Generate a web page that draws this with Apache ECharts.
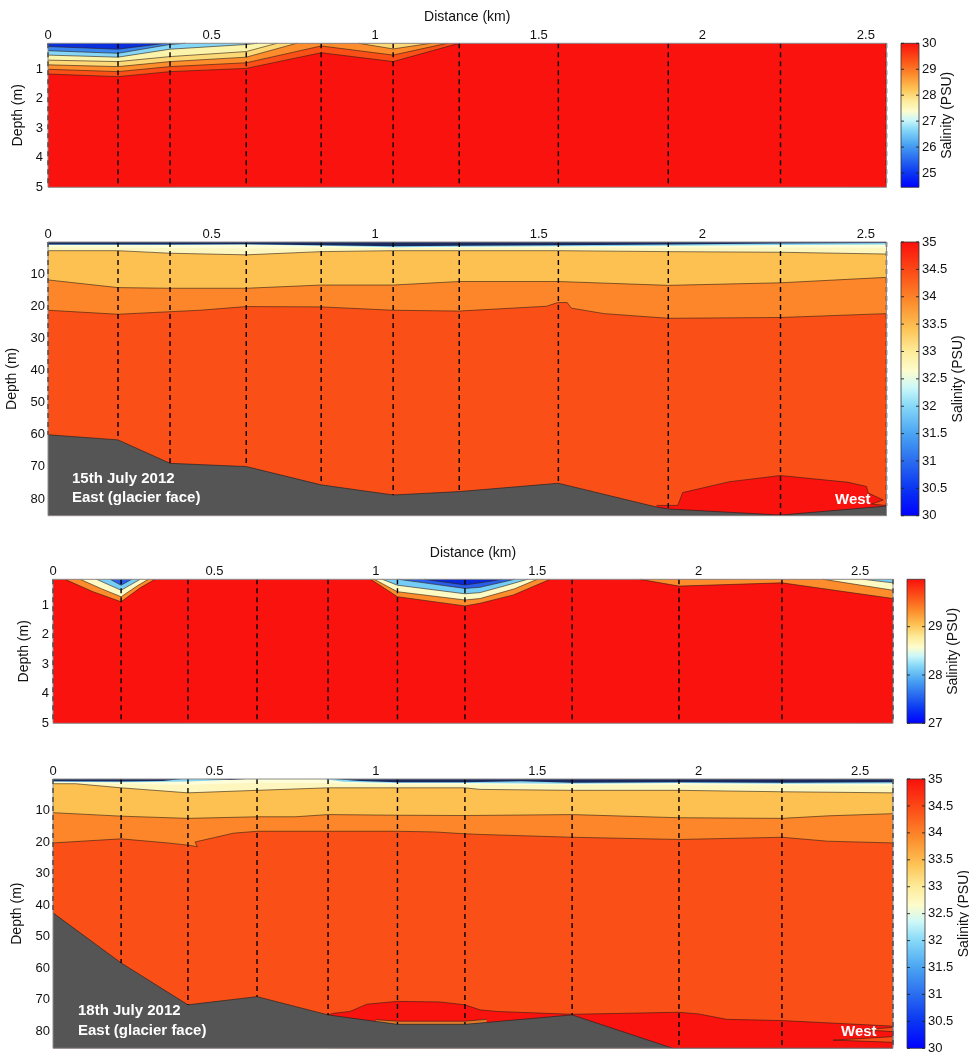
<!DOCTYPE html>
<html><head><meta charset="utf-8">
<script src="https://cdn.jsdelivr.net/npm/echarts@6/dist/echarts.min.js"></script>
<style>html,body{margin:0;padding:0;background:#fff}#c{width:969px;height:1054px}</style>
</head><body><div id="c"></div>
<script>
// ---------------- DATA ----------------
const STATIONS_A = [0, 0.214, 0.373, 0.606, 0.835, 1.055, 1.257, 1.560, 1.896, 2.239, 2.563];
const STATIONS_B = [0, 0.211, 0.418, 0.632, 0.852, 1.067, 1.276, 1.608, 1.939, 2.258, 2.602];
const DIST_TICKS = [0, 0.5, 1, 1.5, 2, 2.5];
const DEPTH_TICKS_SHALLOW = [1, 2, 3, 4, 5];
const DEPTH_TICKS_DEEP = [10, 20, 30, 40, 50, 60, 70, 80];
const CB1_TICKS = [25, 26, 27, 28, 29, 30];
const CB2_TICKS = [30, 30.5, 31, 31.5, 32, 32.5, 33, 33.5, 34, 34.5, 35];
const CB3_TICKS = [27, 28, 29];
const CB_RANGES = [[24.45, 30], [30, 35], [27, 29.98], [30, 35]];

// Panel 1 (15 July, 0-5 m): lower boundary [km, depth m] of each band
const P1_B1 = [[0,0.23],[0.214,0.32],[0.36,0.12]];
const P1_B2 = [[0,0.37],[0.214,0.46],[0.373,0.16],[0.42,0.12]];
const P1_B3 = [[0,0.52],[0.214,0.59],[0.373,0.32],[0.606,0.16],[0.64,0.12]];
const P1_B4 = [[0,0.69],[0.214,0.74],[0.373,0.57],[0.606,0.40],[0.70,0.12]];
const P1_B5A = [[0,0.85],[0.214,0.91],[0.373,0.74],[0.606,0.59],[0.76,0.12]];
const P1_B5B = [[0.95,0.12],[1.055,0.31],[1.17,0.12]];
const P1_B6 = [[0,1.0],[0.214,1.08],[0.373,0.91],[0.606,0.78],[0.835,0.21],[1.055,0.52],[1.22,0.12]];
const P1_B7 = [[0,1.16],[0.214,1.25],[0.373,1.08],[0.606,0.97],[0.835,0.44],[1.055,0.74],[1.257,0.12]];

// Panel 2 (15 July, full depth)
const P2_NAVY = [[0,0.8],[0.373,0.8],[0.606,0.7],[0.835,1.0],[1.055,1.3],[1.257,1.2],[1.56,1.0],[1.896,0.8],[2.239,0.5],[2.563,0.35]];
const P2_CYAN = [[0,0.9],[0.373,0.9],[0.606,0.8],[0.835,1.2],[1.055,1.6],[1.257,1.5],[1.56,1.3],[1.896,1.2],[2.239,0.9],[2.563,0.8]];
const P2_WHITE = [[0,1.6],[0.214,1.7],[0.606,2.0],[1.055,1.9],[1.56,1.8],[2.239,1.7],[2.563,1.8]];
const P2_PALE = [[0,2.7],[0.214,2.7],[0.373,3.5],[0.606,4.0],[0.835,3.0],[1.055,2.7],[1.257,2.7],[1.56,2.7],[1.896,3.0],[2.239,3.2],[2.563,3.75]];
const P2_YEL = [[0,11.8],[0.214,14.2],[0.373,14.4],[0.606,14.4],[0.835,13.4],[1.055,13.4],[1.257,12.3],[1.56,12.3],[1.896,13.5],[2.239,12.7],[2.563,11.0]];
const P2_ORG = [[0,21.25],[0.214,22.5],[0.373,21.7],[0.464,21.25],[0.606,20.1],[0.835,20.2],[1.055,21.25],[1.257,21.5],[1.524,20.0],[1.558,18.85],[1.587,18.85],[1.60,20.6],[1.70,22.3],[1.896,23.75],[2.239,23.5],[2.563,22.3]];
const P2_POCKET = [[1.86,82.0],[1.925,82.0],[1.94,78.0],[2.084,74.6],[2.239,72.7],[2.446,74.8],[2.502,76.1],[2.507,78.1],[2.553,80.3],[2.517,81.6],[2.563,82.0]];
const P2_BED = [[0,60],[0.214,61.6],[0.373,68.9],[0.606,69.9],[0.835,75.6],[1.055,78.75],[1.257,77.7],[1.56,75.1],[1.86,82.5],[1.896,83.1],[2.239,85],[2.563,82.2]];
const P2_CAST_END = [60, 61.6, 68.9, 69.9, 75.6, 78.75, 77.7, 75.1, 83.1, 85, 82.2];

// Panel 3 (18 July, 0-5 m)
const P3_R1 = [[0.037,0.13],[0.124,0.55],[0.211,0.89],[0.27,0.42],[0.316,0.13]];
const P3_O1 = [[0.084,0.13],[0.15,0.45],[0.211,0.72],[0.26,0.36],[0.295,0.13]];
const P3_P1 = [[0.135,0.13],[0.211,0.50],[0.27,0.13]];
const P3_L1 = [[0.177,0.13],[0.211,0.33],[0.244,0.13]];
const P3_R2 = [[0.984,0.13],[1.067,0.72],[1.276,1.03],[1.323,0.94],[1.426,0.66],[1.54,0.13]];
const P3_O2 = [[0.995,0.13],[1.067,0.55],[1.276,0.83],[1.323,0.78],[1.43,0.45],[1.50,0.13]];
const P3_P2 = [[1.02,0.13],[1.067,0.33],[1.276,0.62],[1.323,0.58],[1.40,0.35],[1.47,0.13]];
const P3_L2 = [[1.07,0.13],[1.15,0.25],[1.276,0.44],[1.323,0.40],[1.43,0.13]];
const P3_D2 = [[1.15,0.13],[1.276,0.32],[1.323,0.25],[1.39,0.13]];
const P3_R3 = [[1.818,0.13],[1.939,0.36],[2.258,0.25],[2.602,0.78]];
const P3_O3 = [[2.386,0.13],[2.602,0.50]];
const P3_P3 = [[2.51,0.13],[2.602,0.25]];

// Panel 4 (18 July, full depth)
const P4_NAVY = [[0,0.7],[0.211,0.8],[0.34,0.6],[0.40,0],[0.47,0],[0.55,0.3],[0.60,0],[0.87,0],[0.95,0.6],[1.067,1.0],[1.276,1.0],[1.45,0.7],[1.608,1.2],[1.939,1.0],[2.258,1.2],[2.602,1.0]];
const P4_CYAN = [[0,0.9],[0.211,1.0],[0.35,0.9],[0.418,0.8],[0.50,0.5],[0.58,0],[0.84,0],[0.90,0.9],[1.067,1.3],[1.276,1.3],[1.608,1.5],[1.939,1.3],[2.258,1.5],[2.602,1.4]];
const P4_WHITE = [[0,1.2],[0.211,1.6],[0.418,1.8],[0.632,1.2],[0.852,1.3],[1.067,1.8],[1.608,1.9],[2.258,2.0],[2.602,2.2]];
const P4_PALE = [[0,1.5],[0.07,1.5],[0.211,2.8],[0.418,4.4],[0.632,3.6],[0.852,2.8],[1.067,2.8],[1.276,2.8],[1.323,3.3],[1.608,3.6],[1.939,3.6],[2.258,4.05],[2.602,4.4]];
const P4_YEL = [[0,10.7],[0.211,11.8],[0.418,12.5],[0.632,12.0],[0.75,12.0],[0.852,11.3],[1.067,11.5],[1.276,11.6],[1.608,11.3],[1.939,12.3],[2.258,12.5],[2.40,11.7],[2.602,11.0]];
const P4_ORG = [[0,20.3],[0.211,19.0],[0.355,20.3],[0.418,21.0],[0.447,21.5],[0.44,20.0],[0.50,18.6],[0.559,17.2],[0.632,16.6],[0.852,16.6],[1.067,16.6],[1.18,16.8],[1.276,17.4],[1.323,17.6],[1.608,18.5],[1.939,19.2],[2.258,18.5],[2.40,19.75],[2.602,20.3]];
const P4_POCKET = [[0.852,74.9],[0.868,74.4],[0.92,73.8],[0.972,71.5],[1.067,70.6],[1.2,70.8],[1.276,71.7],[1.323,73.3],[1.375,73.8],[1.608,74.7],[1.939,74.05],[2.0,74.6],[2.087,76.3],[2.258,76.7],[2.59,78.4],[2.602,78.5]];
const P4_SLIVER = [[1.0,76.4],[1.067,76.9],[1.276,76.9],[1.343,76.3]];
const P4_WEDGE1 = [[2.50,79.6],[2.602,78.9],[2.602,80.2]];
const P4_WEDGE2 = [[2.417,82.9],[2.602,81.8],[2.602,83.6]];
const P4_BED = [[0,42.5],[0.211,58.4],[0.418,71.7],[0.632,69.1],[0.852,74.9],[1.067,77.9],[1.276,77.9],[1.608,74.9],[1.92,85.5],[2.602,85.5]];
const P4_CAST_END = [42.5, 58.4, 71.7, 69.1, 74.9, 77.9, 77.9, 74.9, 85.5, 85.5, 85.5];

// ---------------- STYLE ----------------
const FONT = '"Liberation Sans", Arial, Helvetica, sans-serif';
const COLORMAP = [[0,'#0000ff'],[0.1,'#0a35f2'],[0.2,'#2a6cf0'],[0.3,'#4aa4f2'],[0.4,'#86d8f8'],[0.47,'#cdf8f8'],[0.53,'#fdfccc'],[0.6,'#fdeb99'],[0.68,'#fdc456'],[0.78,'#fc8c2c'],[0.88,'#fc5218'],[1,'#fa0f0c']];
const COL = {dblue:'#0b2fdc', blue:'#3a86ee', lblue:'#86d7f7', pale:'#fdf4ac', yellow:'#fdd877', orange:'#fc8c2c', redorange:'#fb4f18', red:'#fa120e',
  navy:'#1a2a5e', cyan:'#86d6f2', white:'#fdfdd8', pale2:'#fdf7bf', yorange:'#fdc152', orange2:'#fc8629', bed:'#555555', sliver:'#e07a2a',
  blue3:'#2a5ee8', dblue3:'#0a28d6', lblue3:'#74cdf6', pale3:'#fefac4'};
const LAYOUT = [
  {left:48, top:43.3, width:838.5, height:144},
  {left:48, top:242, width:838.5, height:273.7},
  {left:53, top:579.3, width:840, height:144},
  {left:53, top:779, width:840, height:269.3}
];
const CB_LAYOUT = [
  {left:901, top:43.3, width:18, height:144},
  {left:901, top:242, width:18, height:273.7},
  {left:907, top:579.3, width:18, height:144},
  {left:907, top:779, width:18, height:269.3}
];

const panels = [
  {xMax:2.563, yMin:0.12, yMax:5, yTicks:DEPTH_TICKS_SHALLOW, stations:STATIONS_A, castEnd:null, bg:COL.red, xName:true, nameGap:15, labelMargin:5,
   fills:[[P1_B7,COL.redorange],[P1_B6,COL.orange],[P1_B5A,COL.yellow],[P1_B5B,COL.yellow],[P1_B4,COL.pale],[P1_B3,COL.lblue],[P1_B2,COL.blue],[P1_B1,COL.dblue]],
   lines:[P1_B1,P1_B2,P1_B3,P1_B4,P1_B5A,P1_B5B,P1_B6,P1_B7], pockets:[], bed:null},
  {xMax:2.563, yMin:0, yMax:85.2, yTicks:DEPTH_TICKS_DEEP, stations:STATIONS_A, castEnd:P2_CAST_END, bg:COL.redorange, xName:false, nameGap:22, labelMargin:3,
   fills:[[P2_ORG,COL.orange2],[P2_YEL,COL.yorange],[P2_PALE,COL.pale2],[P2_WHITE,COL.white],[P2_CYAN,COL.cyan],[P2_NAVY,COL.navy]],
   lines:[P2_PALE,P2_YEL,P2_ORG], pockets:[[P2_POCKET,COL.red,true]], bed:P2_BED},
  {xMax:2.602, yMin:0.13, yMax:5, yTicks:DEPTH_TICKS_SHALLOW, stations:STATIONS_B, castEnd:null, bg:COL.red, xName:true, nameGap:14.5, labelMargin:4,
   fills:[[P3_R1,COL.orange],[P3_R2,COL.orange],[P3_R3,COL.orange],[P3_O1,COL.pale3],[P3_O2,COL.pale3],[P3_O3,COL.pale3],
          [P3_P1,COL.lblue3],[P3_P2,COL.lblue3],[P3_P3,COL.lblue3],[P3_L1,COL.blue3],[P3_L2,COL.blue3],[P3_D2,COL.dblue3]],
   lines:[P3_R1,P3_R2,P3_R3,P3_O1,P3_O2,P3_O3,P3_P1,P3_P2,P3_P3,P3_L1,P3_L2,P3_D2], pockets:[], bed:null},
  {xMax:2.602, yMin:0, yMax:85.5, yTicks:DEPTH_TICKS_DEEP, stations:STATIONS_B, castEnd:P4_CAST_END, bg:COL.redorange, xName:false, nameGap:22, labelMargin:3,
   fills:[[P4_ORG,COL.orange2],[P4_YEL,COL.yorange],[P4_PALE,COL.pale2],[P4_WHITE,COL.white],[P4_CYAN,COL.cyan],[P4_NAVY,COL.navy]],
   lines:[P4_PALE,P4_YEL,P4_ORG], pockets:[[P4_POCKET,COL.red,true],[P4_SLIVER,COL.sliver,true],[P4_WEDGE1,COL.redorange,false],[P4_WEDGE2,COL.redorange,false]], bed:P4_BED}
];
const CB_TICKS = [CB1_TICKS, CB2_TICKS, CB3_TICKS, CB2_TICKS];
const CB_NAMEGAP = [21.5, 31.5, 20.5, 30];

function closeTop(pts, top){ return pts.concat([[pts[pts.length-1][0], top],[pts[0][0], top]]); }
function closeBottom(pts, bot){ return pts.concat([[pts[pts.length-1][0], bot],[pts[0][0], bot]]); }

const LINE_STYLE = {stroke:'rgba(45,30,20,0.75)', lineWidth:0.8, fill:null};

function makeRender(p){
  return function(params, api){
    const c = pt => api.coord(pt);
    const ch = [];
    const tl = c([0, p.yMin]), br = c([p.xMax, p.yMax]);
    ch.push({type:'rect', shape:{x:tl[0], y:tl[1], width:br[0]-tl[0], height:br[1]-tl[1]}, style:{fill:p.bg}});
    p.fills.forEach(f => ch.push({type:'polygon', shape:{points:closeTop(f[0], p.yMin).map(c)}, style:{fill:f[1]}}));
    p.lines.forEach(l => ch.push({type:'polyline', shape:{points:l.map(c)}, style:LINE_STYLE}));
    p.pockets.forEach(pk => {
      const poly = pk[2] ? closeBottom(pk[0], p.yMax) : pk[0];
      ch.push({type:'polygon', shape:{points:poly.map(c)}, style:{fill:pk[1]}});
      ch.push({type:'polyline', shape:{points:(pk[2]?pk[0]:pk[0].concat([pk[0][0]])).map(c)}, style:LINE_STYLE});
    });
    if (p.bed){
      ch.push({type:'polygon', shape:{points:closeBottom(p.bed, p.yMax).map(c)}, style:{fill:COL.bed}});
      ch.push({type:'polyline', shape:{points:p.bed.map(c)}, style:{stroke:'rgba(30,30,30,0.8)', lineWidth:0.8, fill:null}});
    }
    p.stations.forEach((s, i) => {
      const a = c([s, p.yMin]), b = c([s, p.castEnd ? p.castEnd[i] : p.yMax]);
      ch.push({type:'line', shape:{x1:a[0], y1:a[1], x2:b[0], y2:b[1]}, style:{stroke:'#000', lineWidth:1.4, lineDash:[5,4]}});
    });
    ch.push({type:'rect', shape:{x:tl[0], y:tl[1], width:br[0]-tl[0], height:br[1]-tl[1]}, style:{fill:null, stroke:'#8c8c8c', lineWidth:1}});
    return {type:'group', children:ch};
  };
}

function makeCbRender(range, ticks){
  return function(params, api){
    const a = api.coord([0, range[1]]), b = api.coord([1, range[0]]);
    const ch = [
      {type:'rect', shape:{x:a[0], y:a[1], width:b[0]-a[0], height:b[1]-a[1]},
       style:{fill:{type:'linear', x:0, y:1, x2:0, y2:0, colorStops:COLORMAP.map(s => ({offset:s[0], color:s[1]}))}, stroke:'#333', lineWidth:0.8}}
    ];
    ticks.forEach(v => {
      const l = api.coord([0, v]), r = api.coord([1, v]);
      ch.push({type:'line', shape:{x1:l[0], y1:l[1], x2:l[0]+3, y2:l[1]}, style:{stroke:'#222', lineWidth:0.9}});
      ch.push({type:'line', shape:{x1:r[0]-3, y1:r[1], x2:r[0], y2:r[1]}, style:{stroke:'#222', lineWidth:0.9}});
    });
    return {type:'group', children:ch};
  };
}

const grids = [], xAxes = [], yAxes = [], series = [];
const txt = {fontSize:13, color:'#111', fontFamily:FONT};
panels.forEach((p, i) => {
  grids.push(Object.assign({containLabel:false, outerBoundsMode:'none'}, LAYOUT[i]));
  xAxes.push({type:'value', gridIndex:i, position:'top', min:0, max:p.xMax,
    name:p.xName ? 'Distance (km)' : '', nameLocation:'middle', nameGap:19,
    nameTextStyle:{fontSize:14, color:'#111', fontFamily:FONT},
    axisLine:{show:false}, axisTick:{show:false}, splitLine:{show:false},
    axisLabel:Object.assign({customValues:DIST_TICKS, margin:1}, txt)});
  yAxes.push({type:'value', gridIndex:i, inverse:true, min:p.yMin, max:p.yMax,
    name:'Depth (m)', nameLocation:'middle', nameRotate:90, nameGap:p.nameGap,
    nameTextStyle:{fontSize:14, color:'#111', fontFamily:FONT},
    axisLine:{show:false}, axisTick:{show:false}, splitLine:{show:false},
    axisLabel:Object.assign({customValues:p.yTicks, margin:p.labelMargin}, txt)});
});
panels.forEach((p, i) => {
  series.push({type:'custom', xAxisIndex:i, yAxisIndex:i, data:[[0, p.yMax]], renderItem:makeRender(p), silent:true, z:2});
});
CB_LAYOUT.forEach((l, i) => {
  const gi = 4 + i, r = CB_RANGES[i];
  grids.push(Object.assign({containLabel:false, outerBoundsMode:'none'}, l));
  xAxes.push({type:'value', gridIndex:gi, min:0, max:1, show:false});
  yAxes.push({type:'value', gridIndex:gi, min:r[0], max:r[1], position:'right',
    name:'Salinity (PSU)', nameLocation:'middle', nameRotate:90, nameGap:CB_NAMEGAP[i],
    nameTextStyle:{fontSize:14, color:'#111', fontFamily:FONT},
    splitLine:{show:false}, axisLine:{show:false}, axisTick:{show:false},
    axisLabel:Object.assign({customValues:CB_TICKS[i], margin:3}, txt)});
  series.push({type:'custom', xAxisIndex:gi, yAxisIndex:4 + i, data:[[0, r[0]]], renderItem:makeCbRender(r, CB_TICKS[i]), silent:true, z:2});
});

const ann = (text, x, y) => ({type:'text', x:x, y:y, z:100,
  style:{text:text, fill:'#fff', font:'bold 15px ' + FONT, align:'left', verticalAlign:'middle'}});

const chart = echarts.init(document.getElementById('c'));
chart.setOption({
  animation:false,
  grid:grids, xAxis:xAxes, yAxis:yAxes, series:series,
  graphic:[
    ann('15th July 2012', 72, 478.5), ann('East (glacier face)', 72, 498), ann('West', 835, 500),
    ann('18th July 2012', 78, 1011), ann('East (glacier face)', 78, 1030.5), ann('West', 841, 1032)
  ]
});
</script></body></html>
